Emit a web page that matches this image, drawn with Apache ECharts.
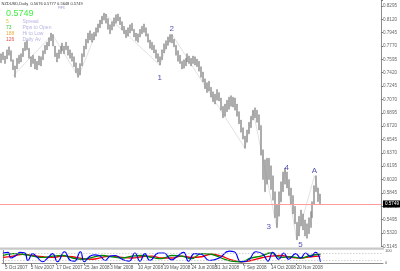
<!DOCTYPE html>
<html><head><meta charset="utf-8">
<script src="https://cdn.jsdelivr.net/npm/echarts@6/dist/echarts.min.js"></script>
<style>html,body{margin:0;padding:0;background:#fff}#c{width:400px;height:271px}</style>
</head><body><div id="c"></div>
<script>
// ---- data (one bar per two trading days) ----
const barHigh = [.767,.769,.764,.772,.776,.771,.759,.751,.761,.765,.767,.774,.782,.784,.774,.763,.765,.760,.757,.764,
.763,.771,.778,.782,.788,.794,.792,.777,.768,.772,.777,.781,.777,.782,.777,.772,.768,.763,.755,.748,
.754,.767,.777,.786,.794,.797,.793,.795,.801,.806,.811,.816,.820,.819,.813,.805,.809,.814,.818,.819,
.815,.809,.803,.798,.801,.805,.807,.799,.794,.793,.799,.803,.806,.801,.793,.785,.782,.778,.772,.767,
.763,.772,.780,.784,.789,.792,.792,.786,.778,.771,.765,.757,.759,.761,.767,.764,.761,.764,.763,.760,
.757,.750,.743,.734,.729,.731,.723,.717,.714,.720,.716,.709,.698,.701,.706,.710,.712,.710,.709,.701,
.691,.680,.670,.659,.667,.677,.685,.693,.696,.693,.687,.673,.641,.628,.630,.630,.620,.607,.586,.569,
.586,.599,.612,.617,.612,.602,.591,.581,.567,.546,.554,.562,.557,.549,.544,.552,.560,.573,.594,.607,
.591,.583];
const barLow = [.755,.759,.754,.760,.765,.757,.746,.736,.747,.754,.756,.763,.771,.772,.761,.750,.754,.747,.746,.752,
.751,.759,.767,.772,.777,.784,.777,.763,.756,.761,.767,.771,.767,.772,.765,.761,.757,.750,.742,.736,
.739,.751,.763,.773,.781,.785,.782,.785,.790,.795,.801,.806,.811,.807,.799,.793,.798,.803,.807,.810,
.805,.798,.793,.788,.790,.794,.797,.789,.784,.782,.789,.793,.795,.790,.782,.774,.772,.768,.761,.756,
.752,.759,.768,.773,.778,.782,.781,.776,.765,.757,.754,.747,.748,.751,.756,.754,.751,.754,.752,.750,
.744,.736,.730,.721,.716,.718,.710,.704,.701,.706,.705,.693,.683,.685,.691,.694,.698,.697,.693,.685,
.675,.664,.655,.643,.651,.662,.670,.680,.683,.677,.667,.634,.602,.586,.596,.602,.589,.575,.552,.539,
.554,.573,.586,.596,.591,.581,.570,.557,.544,.523,.528,.541,.536,.528,.525,.531,.539,.552,.570,.586,
.573,.569];
const dateTicks = [[1,'5 Oct 2007'],[14,'5 Nov 2007'],[27,'17 Dec 2007'],[41,'25 Jan 2008'],[54,'3 Mar 2008'],
[68,'10 Apr 2008'],[81,'19 May 2008'],[95,'24 Jun 2008'],[107,'31 Jul 2008'],[121,'7 Sep 2008'],
[135,'14 Oct 2008'],[148,'20 Nov 2008']];
const priceTicks = [0.5145,0.5320,0.5495,0.5670,0.5845,0.6020,0.6195,0.6370,0.6545,0.6720,0.6895,0.7070,
0.7245,0.7420,0.7595,0.7770,0.7945,0.8120,0.8295];
const lastPrice = 0.5749;
const waveLabels = [[80,0.736,'1'],[86,0.799,'2'],[135,0.540,'3'],[144,0.618,'4'],[151,0.516,'5'],[158,0.613,'A']];
const zigzag = [[6,0.738],[26,0.792],[39,0.737],[52,0.820],[80,0.752],[86,0.793],[123,0.643],[127,0.693],
[139,0.539],[143,0.617],[149,0.523],[158,0.607],[161,0.575]];
const oscBlue = [[0,80],[2.5,85],[4,40],[6.5,60],[8.5,85],[11,80],[12.5,20],[15,75],[17,50],[20,10],[22.5,40],[25,75],
[27.5,10],[31,90],[34,20],[36,15],[39,90],[41,10],[43.5,50],[46,65],[48.5,60],[51.5,20],[54,55],[56.5,60],[60,30],
[63.5,15],[66.5,80],[69,15],[71.5,75],[74,20],[78.5,80],[81,80],[85,25],[87.5,50],[91,85],[93.5,15],[96.5,75],[100,70],
[104,20],[109,40],[114,95],[116.5,90],[120,10],[123.5,20],[127.5,90],[131,70],[133.5,15],[136,85],[139,30],[141.5,80],
[144,30],[147.5,75],[150,40],[152.5,80],[155,50],[157.5,85],[160,10]];
const oscGreen = [[0,60],[5,75],[10,70],[15,55],[20,45],[25,55],[30,60],[35,40],[40,30],[45,45],[50,60],[55,50],[60,40],
[65,55],[70,60],[75,45],[80,35],[85,60],[90,55],[95,35],[100,75],[105,70],[110,40],[115,15],[120,10],[125,40],[130,55],
[135,80],[140,45],[145,50],[150,40],[155,60],[160,70]];
const oscRed = [[0,45],[5,55],[10,70],[15,60],[20,50],[25,45],[30,55],[35,50],[40,35],[45,30],[50,45],[55,55],[60,45],
[65,40],[70,50],[75,55],[80,40],[85,40],[90,55],[95,45],[100,50],[105,70],[110,55],[115,25],[120,10],[125,20],[130,40],
[135,55],[140,60],[145,45],[150,40],[155,50],[160,55]];
const nCats = 192;

// ---- build ----
const cats = new Array(nCats).fill('');
dateTicks.forEach(d => { cats[d[0]] = d[1]; });
const ohlc = barHigh.map((h, i) => [barLow[i], h, barLow[i], h]);
const yMin = priceTicks[0], step = priceTicks[1] - priceTicks[0];
const plotH = 246.3;
const yMax = priceTicks[priceTicks.length - 1] + 6 / 13.35 * step;
const FF = 'Liberation Sans';

const chart = echarts.init(document.getElementById('c'), null, {renderer: 'canvas'});
chart.setOption({
  animation: false,
  backgroundColor: '#fff',
  grid: [
    {left: 0, top: 0, width: 383, height: plotH},
    {left: 0, top: 250.5, width: 383, height: 12.5}
  ],
  xAxis: [
    {type: 'category', gridIndex: 0, data: cats, boundaryGap: true,
     axisLine: {show: false}, axisTick: {show: false}, axisLabel: {show: false}},
    {type: 'category', gridIndex: 1, data: cats, boundaryGap: true,
     axisLine: {show: true, lineStyle: {color: '#8c8c8c', width: 1}},
     axisTick: {show: true, interval: (i, v) => v !== '', length: 2, lineStyle: {color: '#777'}, alignWithLabel: true},
     axisLabel: {show: true, interval: 0, fontSize: 4.6, color: '#555', align: 'left', margin: 2, fontFamily: FF}},
    {type: 'value', gridIndex: 1, min: -0.5, max: nCats - 0.5, show: false}
  ],
  yAxis: [
    {type: 'value', gridIndex: 0, position: 'right', min: yMin, max: yMax, interval: step, scale: true,
     axisLine: {show: true, lineStyle: {color: '#8c8c8c'}},
     axisTick: {show: true, length: 2, lineStyle: {color: '#777'}},
     splitLine: {show: false},
     axisLabel: {fontSize: 4.6, color: '#666', margin: 2, fontFamily: FF,
       formatter: v => priceTicks.some(t => Math.abs(t - v) < 1e-6) ? v.toFixed(4) : ''}},
    {type: 'value', gridIndex: 1, position: 'right', min: 0, max: 100, interval: 100,
     axisLine: {show: true, lineStyle: {color: '#8c8c8c'}},
     axisTick: {show: false}, splitLine: {show: false},
     axisLabel: {fontSize: 4, color: '#555', margin: 2, fontFamily: FF}}
  ],
  series: [
    {type: 'candlestick', xAxisIndex: 0, yAxisIndex: 0, data: ohlc, barWidth: 1.5,
     itemStyle: {color: '#8a8a8a', color0: '#8a8a8a', borderColor: '#8a8a8a', borderColor0: '#8a8a8a', borderWidth: 0.4},
     markLine: {silent: true, symbol: 'none',
       lineStyle: {color: '#ff9c9c', width: 1, type: 'solid'},
       label: {show: true, position: 'end', formatter: lastPrice.toFixed(4), color: '#fff', backgroundColor: '#000',
         fontSize: 4.6, padding: [1, 2], distance: 2, fontFamily: FF},
       data: [{yAxis: lastPrice}]}},
    {type: 'line', xAxisIndex: 0, yAxisIndex: 0, data: zigzag, symbol: 'none',
     lineStyle: {color: '#d6d6d6', width: 0.7}, z: 1},
    {type: 'scatter', xAxisIndex: 0, yAxisIndex: 0, symbolSize: 0,
     data: waveLabels.map(w => ({value: [w[0], w[1]], name: w[2]})),
     label: {show: true, position: 'inside', formatter: p => p.name, color: '#1e1e9e', fontSize: 8, fontFamily: FF}},
    {type: 'line', xAxisIndex: 2, yAxisIndex: 1, data: oscRed, smooth: true, symbol: 'none',
     lineStyle: {color: '#ff0000', width: 1.3},
     markLine: {silent: true, symbol: 'none', label: {show: false},
       lineStyle: {color: '#b4b4b4', width: 0.6, type: [1.5, 1.5]}, data: [{yAxis: 80}, {yAxis: 20}]}},
    {type: 'line', xAxisIndex: 2, yAxisIndex: 1, data: oscGreen, smooth: true, symbol: 'none',
     lineStyle: {color: '#008a00', width: 1.3}},
    {type: 'line', xAxisIndex: 2, yAxisIndex: 1, data: oscBlue, smooth: true, symbol: 'none',
     lineStyle: {color: '#0000ff', width: 1.2}}
  ],
  graphic: [
    {type: 'rect', shape: {x: 0, y: 247.5, width: 384, height: 2.2}, style: {fill: '#c8c8c8'}, silent: true},
    {type: 'text', left: 1.5, top: 2, style: {text: 'NZDUSD,Daily  0.5676 0.5777 0.5648 0.5749', fontSize: 4, fill: '#333', fontFamily: FF}},
    {type: 'text', left: 58, top: 7, style: {text: 'PIPS', fontSize: 3, fill: '#9a9ac8', fontFamily: FF}},
    {type: 'text', left: 6, top: 9.5, style: {text: '0.5749', fontSize: 9, fill: '#44ee44', fontFamily: FF}},
    {type: 'text', left: 6, top: 18.8, style: {text: '5', fontSize: 5, fill: '#e8c030', fontFamily: FF}},
    {type: 'text', left: 22.5, top: 18.8, style: {text: 'Spread', fontSize: 5, fill: '#b4b4e0', fontFamily: FF}},
    {type: 'text', left: 6, top: 24.8, style: {text: '73', fontSize: 5, fill: '#40c040', fontFamily: FF}},
    {type: 'text', left: 22.5, top: 24.8, style: {text: 'Pips to Open', fontSize: 5, fill: '#b4b4e0', fontFamily: FF}},
    {type: 'text', left: 6, top: 30.8, style: {text: '188', fontSize: 5, fill: '#e8b040', fontFamily: FF}},
    {type: 'text', left: 22.5, top: 30.8, style: {text: 'Hi to Low', fontSize: 5, fill: '#b4b4e0', fontFamily: FF}},
    {type: 'text', left: 6, top: 36.8, style: {text: '126', fontSize: 5, fill: '#e85050', fontFamily: FF}},
    {type: 'text', left: 22.5, top: 36.8, style: {text: 'Daily Av', fontSize: 5, fill: '#b4b4e0', fontFamily: FF}}
  ]
});
</script></body></html>
